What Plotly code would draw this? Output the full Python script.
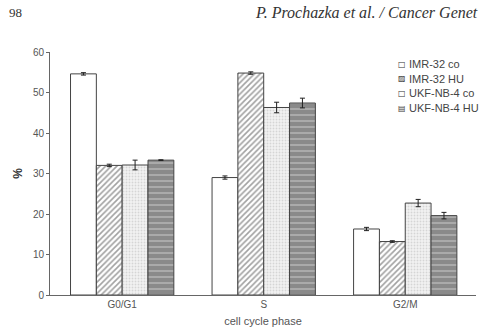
import plotly.graph_objects as go

categories = ["G0/G1", "S", "G2/M"]
series_names = ["IMR-32 co", "IMR-32 HU", "UKF-NB-4 co", "UKF-NB-4 HU"]
legend_glyphs = ["\u25a1", "\u25a8", "\u25a1", "\u25a4"]
imr32_co = [54.6, 29.0, 16.3]
imr32_hu = [32.0, 54.8, 13.2]
ukf_co = [32.1, 46.3, 22.7]
ukf_hu = [33.3, 47.4, 19.6]
imr32_co_err = [0.3, 0.4, 0.4]
imr32_hu_err = [0.3, 0.3, 0.2]
ukf_co_err = [1.2, 1.3, 0.9]
ukf_hu_err = [0.1, 1.2, 0.8]
y_ticks = [0, 10, 20, 30, 40, 50, 60]

values = [imr32_co, imr32_hu, ukf_co, ukf_hu]
errors = [imr32_co_err, imr32_hu_err, ukf_co_err, ukf_hu_err]
styles = [
    dict(color="white", pattern=dict(shape="")),
    dict(color="white", pattern=dict(shape="/", fgcolor="#444444", size=4, solidity=0.4)),
    dict(color="#f2f2f2", pattern=dict(shape=".", fgcolor="#b8b8b8", size=3, solidity=0.3)),
    dict(color="#8a8a8a", pattern=dict(shape="-", fgcolor="#f4f4f4", size=6, solidity=0.2)),
]

fig = go.Figure()
for name, vals, errs, st in zip(series_names, values, errors, styles):
    fig.add_trace(go.Bar(
        x=categories, y=vals, name=name, showlegend=False,
        marker=dict(color=st["color"], pattern=st["pattern"],
                    line=dict(color="#444444", width=1)),
        error_y=dict(type="data", array=errs, color="#222222", thickness=1, width=2.5),
    ))

fig.update_layout(
    width=481, height=331,
    barmode="group", bargap=0.27, bargroupgap=0,
    plot_bgcolor="white", paper_bgcolor="white",
    margin=dict(l=50, r=5, t=52, b=36),
    font=dict(family="Liberation Sans, Arial, sans-serif", size=10, color="#555555"),
    showlegend=False,
    xaxis=dict(showline=True, linecolor="#666666", linewidth=1, ticks="",
               automargin=False, range=[-0.51, 2.5],
               title=dict(text="cell cycle phase", standoff=8, font=dict(size=11)),
               tickfont=dict(size=10)),
    yaxis=dict(showline=True, linecolor="#666666", linewidth=1, ticks="outside",
               automargin=False, ticklen=3, tickcolor="#666666", range=[0, 60],
               tickvals=y_ticks, showgrid=False, zeroline=False, tickfont=dict(size=10),
               title=dict(text="<b>%</b>", standoff=7, font=dict(size=12, color="#333333"))),
)

# legend drawn as text rows (tight spacing as in the reference)
legend_y0 = 64
legend_step = 14.7
for i, (glyph, name) in enumerate(zip(legend_glyphs, series_names)):
    yy = 1 - (legend_y0 + i * legend_step - 52) / 243
    fig.add_annotation(text=glyph, xref="paper", yref="paper", x=(402 - 50) / 426, y=yy,
                       xanchor="center", yanchor="middle", showarrow=False,
                       font=dict(family="DejaVu Sans", size=8, color="#333333"))
    fig.add_annotation(text=name, xref="paper", yref="paper", x=(407 - 50) / 426, y=yy,
                       xanchor="left", yanchor="middle", showarrow=False,
                       font=dict(size=11, color="#444444"))

fig.add_annotation(text="98", xref="paper", yref="paper", x=(7 - 50) / 426, y=1 + (52 - 13) / 243,
                   xanchor="left", yanchor="middle", showarrow=False,
                   font=dict(family="Liberation Serif, Times New Roman, serif", size=13, color="#333333"))
fig.add_annotation(text="<i>P. Prochazka et al. / Cancer Genet</i>", xref="paper", yref="paper",
                   x=(253 - 50) / 426, y=1 + (52 - 13) / 243, xanchor="left", yanchor="middle",
                   showarrow=False,
                   font=dict(family="Liberation Serif, Times New Roman, serif", size=16, color="#333333"))

fig.write_html("out.html", config={"displayModeBar": False},
               post_script="document.body.style.margin='0';document.body.style.overflow='hidden';")
